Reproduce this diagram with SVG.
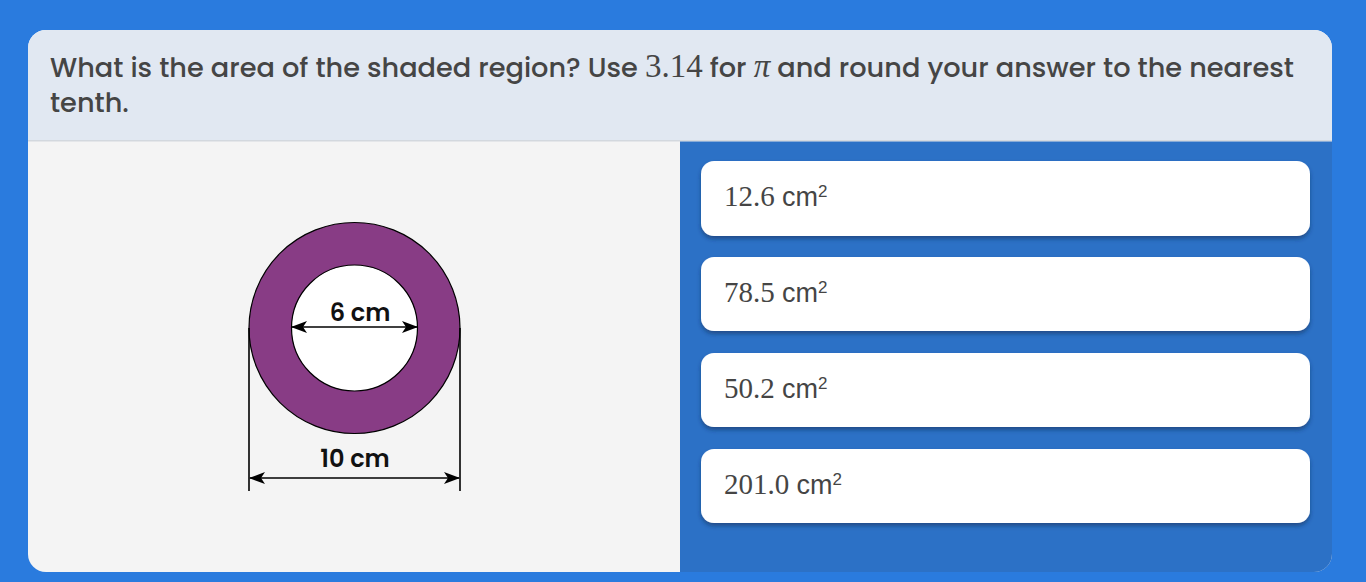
<svg xmlns="http://www.w3.org/2000/svg" width="1366" height="582" viewBox="0 0 1366 582">
<defs>
<style>
.q{font-family:Poppins,"Open Sans","Noto Sans",sans-serif;font-size:27.2px;font-weight:500;fill:#454545;}
.m{font-family:"Liberation Serif","DejaVu Serif",serif;font-size:33px;font-weight:400;}
.ans{font-family:"Liberation Serif","DejaVu Serif",serif;font-size:29px;fill:#454545;}
.cm{font-family:"Liberation Sans",Arial,sans-serif;font-size:27px;}
.sup{font-family:"Liberation Sans",Arial,sans-serif;font-size:17px;}
.box{fill:#ffffff;filter:url(#sh);}
.lbl{font-family:Poppins,"Open Sans","Noto Sans",sans-serif;font-size:24px;font-weight:600;fill:#111;text-anchor:middle;}
.dim{stroke:#000;stroke-width:1.6;fill:none;}
</style>
<filter id="sh" x="-5%" y="-20%" width="110%" height="150%">
<feDropShadow dx="0" dy="3" stdDeviation="2" flood-color="#10305a" flood-opacity="0.55"/>
</filter>
<marker id="ah" viewBox="0 0 16 12" refX="15" refY="6" markerWidth="16" markerHeight="12" markerUnits="userSpaceOnUse" orient="auto-start-reverse">
<path d="M0,0 L16,6 L0,12 L4,6 Z" fill="#000"/>
</marker>
<clipPath id="card"><rect x="28" y="30" width="1304" height="542" rx="18"/></clipPath>
</defs>
<rect width="1366" height="582" fill="#2a7bde"/>
<g clip-path="url(#card)">
<rect x="28" y="30" width="1304" height="542" fill="#f4f4f4"/>
<rect x="28" y="30" width="1304" height="111" fill="#e1e8f2"/>
<rect x="28" y="140" width="1304" height="1.5" fill="#d3d8de"/>
<rect x="680" y="141.5" width="652" height="431" fill="#2c71c6"/>
</g>
<g id="question">
<text class="q" x="50" y="77">What is the area of the shaded region? Use <tspan class="m">3.14</tspan> for <tspan class="m" font-style="italic">π</tspan> and round your answer to the nearest<tspan x="50" y="112">tenth.</tspan></text>
</g>
<g id="figure">
<circle cx="354.5" cy="328" r="105.5" fill="#883c85" stroke="#000" stroke-width="1.2"/>
<circle cx="354.5" cy="328" r="63" fill="#ffffff" stroke="#000" stroke-width="1.2"/>
</g>
<g id="connectors">
<line class="dim" x1="249" y1="328" x2="249" y2="491"/>
<line class="dim" x1="460" y1="328" x2="460" y2="491"/>
<line class="dim" x1="250" y1="478" x2="459" y2="478" marker-start="url(#ah)" marker-end="url(#ah)"/>
<line class="dim" x1="292" y1="327" x2="417" y2="327" marker-start="url(#ah)" marker-end="url(#ah)"/>
</g>
<g id="labels">
<text class="lbl" x="360" y="321">6 cm</text>
<text class="lbl" x="355" y="467">10 cm</text>
</g>
<g id="answer-a">
<rect class="box" x="701" y="161" width="609" height="75" rx="13"/>
<text class="ans" x="724" y="206">12.6 <tspan class="cm">cm</tspan><tspan class="sup" dy="-9.5">2</tspan></text>
</g>
<g id="answer-b">
<rect class="box" x="701" y="257" width="609" height="74" rx="13"/>
<text class="ans" x="724" y="302">78.5 <tspan class="cm">cm</tspan><tspan class="sup" dy="-9.5">2</tspan></text>
</g>
<g id="answer-c">
<rect class="box" x="701" y="353" width="609" height="74" rx="13"/>
<text class="ans" x="724" y="398">50.2 <tspan class="cm">cm</tspan><tspan class="sup" dy="-9.5">2</tspan></text>
</g>
<g id="answer-d">
<rect class="box" x="701" y="449" width="609" height="74" rx="13"/>
<text class="ans" x="724" y="494">201.0 <tspan class="cm">cm</tspan><tspan class="sup" dy="-9.5">2</tspan></text>
</g>
</svg>
